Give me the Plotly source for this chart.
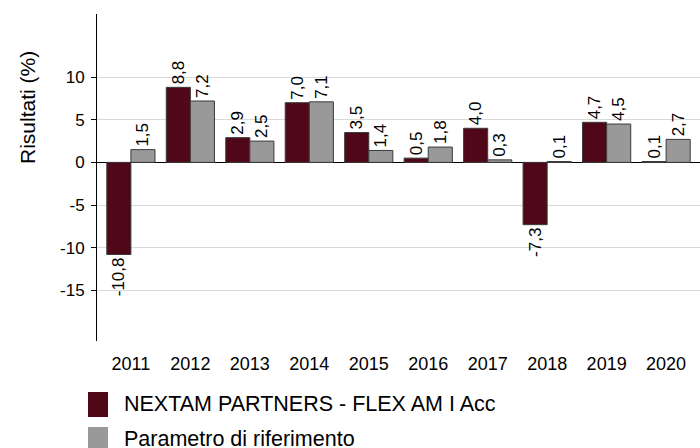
import plotly.graph_objects as go

years = ["2011", "2012", "2013", "2014", "2015", "2016", "2017", "2018", "2019", "2020"]
fund = [-10.8, 8.8, 2.9, 7.0, 3.5, 0.5, 4.0, -7.3, 4.7, 0.1]
bench = [1.5, 7.2, 2.5, 7.1, 1.4, 1.8, 0.3, 0.1, 4.5, 2.7]
fund_name = "NEXTAM PARTNERS - FLEX AM I Acc"
bench_name = "Parametro di riferimento"
ytick_vals = [-15, -10, -5, 0, 5, 10]
ytick_text = ["-15", "-10", "-5", "0", "5", "10"]

FONT = "Arial, Liberation Sans, sans-serif"
DARK = "#500818"
GRAY = "#999999"


def fmt(v):
    return f"{v:.1f}".replace(".", ",")


fig = go.Figure()
for name, vals, col in [(fund_name, fund, DARK), (bench_name, bench, GRAY)]:
    fig.add_trace(go.Bar(
        x=years, y=vals, name=name, marker=dict(color=col, line=dict(color="#3a3a3a", width=1)),
        text=[fmt(v) for v in vals], texttemplate="%{text}", textposition="outside", textangle=-90,
        textfont=dict(family=FONT, size=17, color="black"), cliponaxis=False, constraintext="none",
        showlegend=False, hoverinfo="skip",
    ))

fig.update_layout(
    width=700, height=448, barmode="group", bargap=0.19, bargroupgap=0,
    margin=dict(l=97, r=0, t=14, b=107, autoexpand=False),
    plot_bgcolor="white", paper_bgcolor="white",
    font=dict(family=FONT, size=17, color="black"),
    xaxis=dict(range=[-0.57, 9.57], showgrid=False, showline=False, ticks="", automargin=False,
               tickfont=dict(size=18), ticklabelstandoff=10),
    yaxis=dict(range=[-20.94, 17.4], tickvals=ytick_vals, ticktext=ytick_text, showgrid=True,
               gridcolor="#d9d9d9", automargin=False,
               gridwidth=1, zeroline=True, zerolinecolor="black", zerolinewidth=1,
               showline=True, linecolor="black", linewidth=1, ticks="outside", ticklen=5,
               tickcolor="black", tickfont=dict(size=17), ticklabelstandoff=3),
)

fig.add_annotation(text="Risultati (%)", xref="paper", yref="paper", x=(27 - 97) / 603, y=(341 - 108) / 327,
                   textangle=-90, showarrow=False, font=dict(size=21), xanchor="center", yanchor="middle")

# custom legend
for i, (name, col) in enumerate([(fund_name, DARK), (bench_name, GRAY)]):
    yc = 404 + i * 35
    top = yc - 12
    bot = yc + 13
    fig.add_shape(type="rect", xref="paper", yref="paper",
                  x0=(88 - 97) / 603, x1=(108 - 97) / 603, y0=(341 - bot) / 327, y1=(341 - top) / 327,
                  fillcolor=col, line=dict(width=0))
    fig.add_annotation(text=name, xref="paper", yref="paper", x=(122 - 97) / 603,
                       y=(341 - yc) / 327, xanchor="left", yanchor="middle", showarrow=False,
                       font=dict(size=21.5))

fig.write_html("out.html", config={"displayModeBar": False},
               post_script="document.body.style.margin='0';document.body.style.overflow='hidden';")
